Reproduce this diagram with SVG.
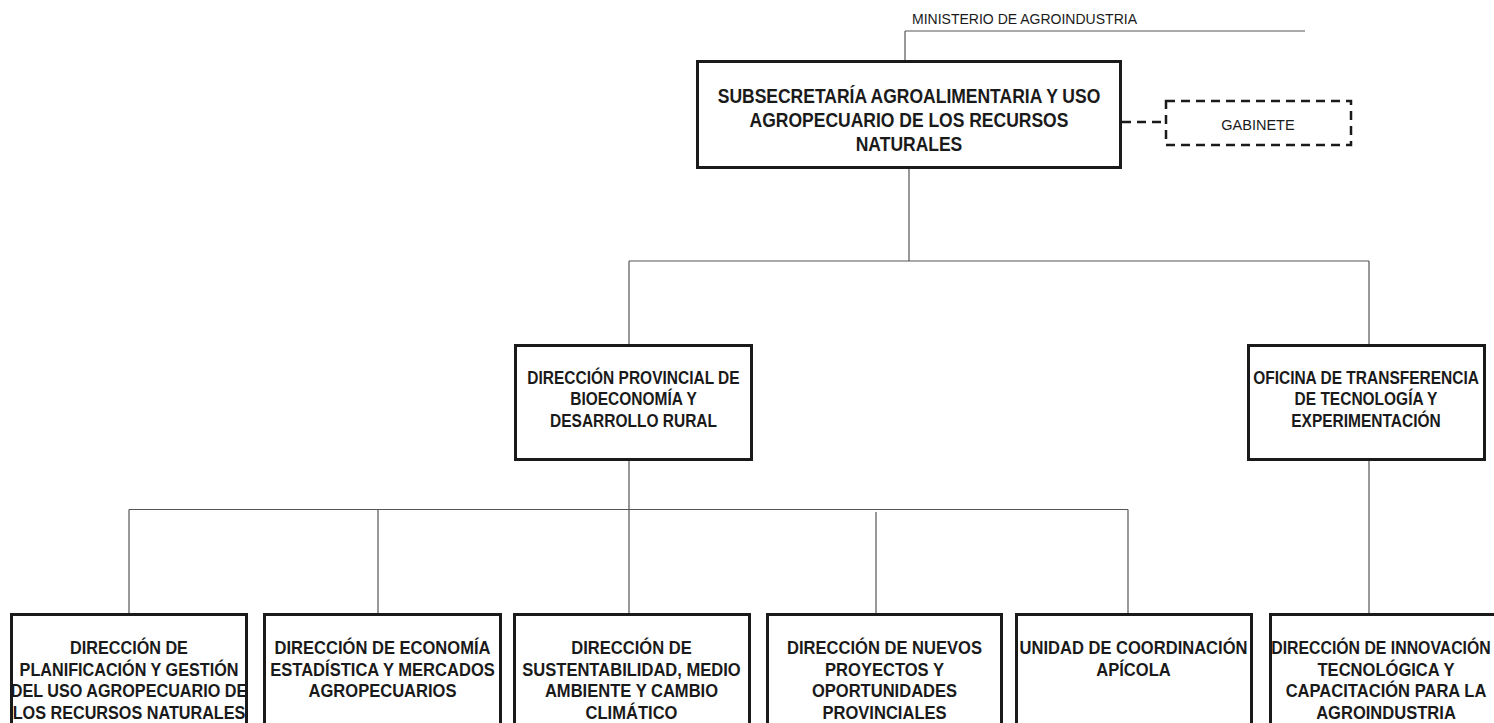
<svg xmlns="http://www.w3.org/2000/svg" width="1494" height="723" viewBox="0 0 1494 723">
<style>
.bg{fill:#ffffff}
.box{fill:#ffffff;stroke:#1a1a1a;stroke-width:3}
.dbox{fill:#ffffff;stroke:#1a1a1a;stroke-width:2.5;stroke-dasharray:9 6}
.ln{fill:none;stroke:#555555;stroke-width:1.2}
.dln{fill:none;stroke:#1a1a1a;stroke-width:2.5;stroke-dasharray:9 6}
.t{font-family:"Liberation Sans",Arial,sans-serif;font-weight:bold;fill:#1a1a1a;text-anchor:middle}
.tm{font-size:20px}
.tp{font-size:17.5px}
.tb{font-size:18px}
.r{font-family:"Liberation Sans",Arial,sans-serif;fill:#1a1a1a}
</style>
<rect class="bg" x="0" y="0" width="1494" height="723"/>
<g id="connectors">
<path class="ln" d="M905 31 H1305 M905 31 V60"/>
<path class="dln" d="M1122 122 H1165"/>
<path class="ln" d="M909 169 V261 M629 261 H1369 M629 261 V344 M1369 261 V344"/>
<path class="ln" d="M629 461 V509.5 M129 509.5 H1128 M129 509.5 V613 M378 509.5 V613 M629 509.5 V613 M876 512 V613 M1128 509.5 V613"/>
<path class="ln" d="M1369 461 V613"/>
</g>
<g id="ministerio">
<text class="r" x="912" y="23.5" font-size="14" textLength="225" lengthAdjust="spacingAndGlyphs">MINISTERIO DE AGROINDUSTRIA</text>
</g>
<g id="subsecretaria">
<rect class="box" x="697.5" y="61.5" width="423" height="106"/>
<g transform="translate(909 0) scale(0.875 1)">
<text class="t tm" x="0" y="103">SUBSECRETARÍA AGROALIMENTARIA Y USO</text>
<text class="t tm" x="0" y="127">AGROPECUARIO DE LOS RECURSOS</text>
<text class="t tm" x="0" y="151">NATURALES</text>
</g>
</g>
<g id="gabinete">
<rect class="dbox" x="1166" y="101" width="185" height="44"/>
<text class="r" x="1258" y="130" font-size="14.5" text-anchor="middle">GABINETE</text>
</g>
<g id="dir-provincial">
<rect class="box" x="515.5" y="345.5" width="236" height="114"/>
<g transform="translate(633.5 0) scale(0.886 1)">
<text class="t tp" x="0" y="384">DIRECCIÓN PROVINCIAL DE</text>
<text class="t tp" x="0" y="405.5">BIOECONOMÍA Y</text>
<text class="t tp" x="0" y="427">DESARROLLO RURAL</text>
</g>
</g>
<g id="oficina">
<rect class="box" x="1248.5" y="345.5" width="236" height="114"/>
<g transform="translate(1366 0) scale(0.886 1)">
<text class="t tp" x="0" y="384">OFICINA DE TRANSFERENCIA</text>
<text class="t tp" x="0" y="405.5">DE TECNOLOGÍA Y</text>
<text class="t tp" x="0" y="427">EXPERIMENTACIÓN</text>
</g>
</g>
<g id="dir-planificacion">
<rect class="box" x="11.5" y="614.5" width="235" height="130"/>
<g transform="translate(129 0) scale(0.9 1)">
<text class="t tb" x="0" y="654">DIRECCIÓN DE</text>
<text class="t tb" x="0" y="676">PLANIFICACIÓN Y GESTIÓN</text>
<text class="t tb" x="0" y="697.5">DEL USO AGROPECUARIO DE</text>
<text class="t tb" x="0" y="719">LOS RECURSOS NATURALES</text>
</g>
</g>
<g id="dir-economia">
<rect class="box" x="264.5" y="614.5" width="236" height="130"/>
<g transform="translate(382.5 0) scale(0.92 1)">
<text class="t tb" x="0" y="654">DIRECCIÓN DE ECONOMÍA</text>
<text class="t tb" x="0" y="676">ESTADÍSTICA Y MERCADOS</text>
<text class="t tb" x="0" y="697.5">AGROPECUARIOS</text>
</g>
</g>
<g id="dir-sustentabilidad">
<rect class="box" x="514.5" y="614.5" width="235" height="130"/>
<g transform="translate(631.5 0) scale(0.92 1)">
<text class="t tb" x="0" y="654">DIRECCIÓN DE</text>
<text class="t tb" x="0" y="676">SUSTENTABILIDAD, MEDIO</text>
<text class="t tb" x="0" y="697.5">AMBIENTE Y CAMBIO</text>
<text class="t tb" x="0" y="719">CLIMÁTICO</text>
</g>
</g>
<g id="dir-nuevos-proyectos">
<rect class="box" x="767.5" y="614.5" width="234" height="130"/>
<g transform="translate(884.5 0) scale(0.92 1)">
<text class="t tb" x="0" y="654">DIRECCIÓN DE NUEVOS</text>
<text class="t tb" x="0" y="676">PROYECTOS Y</text>
<text class="t tb" x="0" y="697.5">OPORTUNIDADES</text>
<text class="t tb" x="0" y="719">PROVINCIALES</text>
</g>
</g>
<g id="unidad-apicola">
<rect class="box" x="1016.5" y="614.5" width="235" height="130"/>
<g transform="translate(1133.5 0) scale(0.92 1)">
<text class="t tb" x="0" y="654">UNIDAD DE COORDINACIÓN</text>
<text class="t tb" x="0" y="676">APÍCOLA</text>
</g>
</g>
<g id="dir-innovacion">
<rect class="box" x="1270.5" y="614.5" width="235" height="130"/>
<g transform="translate(1381 0) scale(0.88 1)">
<text class="t tb" x="0" y="654">DIRECCIÓN DE INNOVACIÓN</text>
</g>
<g transform="translate(1386 0) scale(0.92 1)">
<text class="t tb" x="0" y="676">TECNOLÓGICA Y</text>
<text class="t tb" x="0" y="697.5">CAPACITACIÓN PARA LA</text>
<text class="t tb" x="0" y="719">AGROINDUSTRIA</text>
</g>
</g>
</svg>
